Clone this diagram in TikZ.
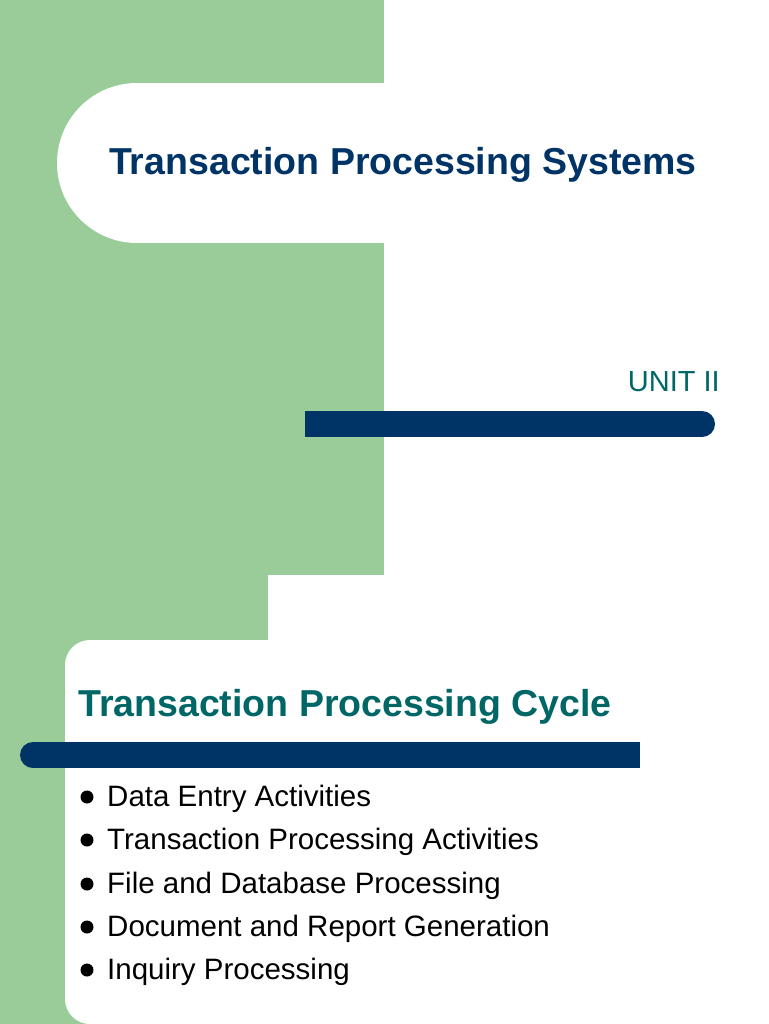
\documentclass[tikz,border=0pt]{standalone}
\usepackage{fontspec}
\setmainfont{Liberation Sans}
\definecolor{sgreen}{HTML}{99CC99}
\definecolor{navy}{HTML}{003366}
\definecolor{teal2}{HTML}{006666}
\begin{document}
\begin{tikzpicture}[x=1pt,y=-1pt,
  bul/.style={anchor=west,font=\fontsize{29.5}{34}\selectfont,text=black,inner sep=0pt}]
\useasboundingbox (0,0) rectangle (768,1024);
\fill[white] (0,0) rectangle (768,1024);
\fill[sgreen] (0,0) rectangle (384,575);
\fill[sgreen] (0,575) rectangle (268,1024);
\fill[white,rounded corners=25pt] (65,1024) -- (65,640) -- (768,640) -- (768,1024) -- cycle;
% top pill
\fill[white] (137,83) rectangle (384,243);
\fill[white] (137,163) circle (80);
\node[font=\bfseries\fontsize{37.5}{42}\selectfont,text=navy] (title) at (403,165) {Transaction Processing Systems};
\node[anchor=east,font=\fontsize{29}{33}\selectfont,text=teal2,inner sep=0pt] (unit) at (720,382) {UNIT II};
\fill[navy] (305,411) rectangle (702,437);
\fill[navy] (702,424) circle (13);
\node[anchor=west,font=\bfseries\fontsize{37.5}{42}\selectfont,text=teal2,inner sep=0pt] (cyc) at (78,707) {Transaction Processing Cycle};
\fill[navy] (33,742) rectangle (640,768);
\fill[navy] (33,755) circle (13);
\foreach \y/\t [count=\i] in {799/Data Entry Activities,842/Transaction Processing Activities,886/File and Database Processing,929/Document and Report Generation,972/Inquiry Processing}{
  \fill[black] (87,\y-2) circle (6.5);
  \node[bul] (b\i) at (107,\y) {\t};
}
\end{tikzpicture}
\end{document}
